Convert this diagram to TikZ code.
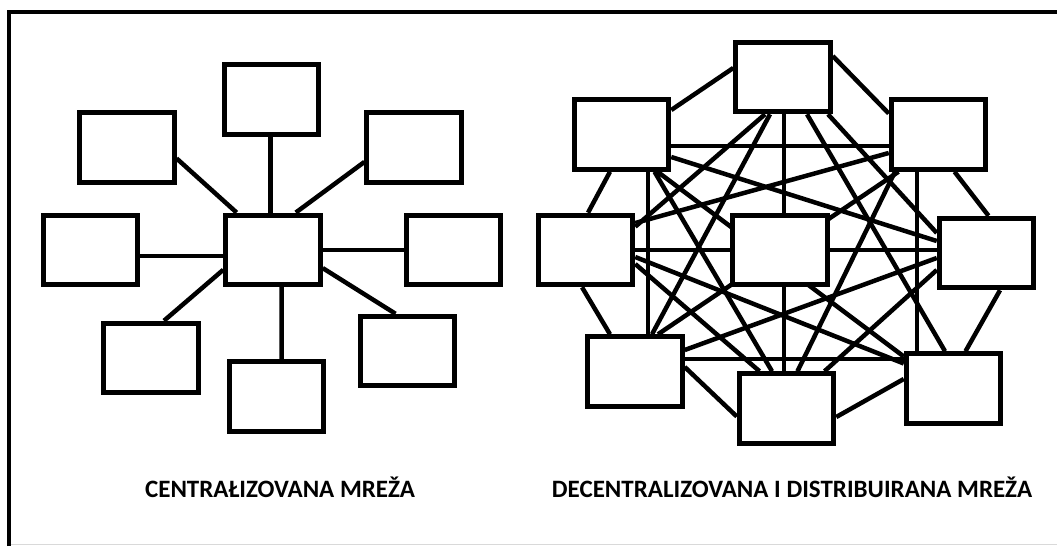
\documentclass[tikz,border=0pt]{standalone}
\usepackage{fontspec}
\setmainfont{Carlito}
\usepackage{tikz}
\usetikzlibrary{positioning}
\usetikzlibrary{calc}
\pgfdeclarelayer{links}
\pgfsetlayers{links,main}

\begin{document}
\begin{tikzpicture}[x=1pt, y=-1pt,
  box/.style={draw, line width=5pt, fill=white, inner sep=0pt, minimum width=94.5pt, minimum height=69.5pt},
  link/.style={line width=4.5pt},
  caption/.style={anchor=base, font=\bfseries\fontsize{25}{28}\selectfont}]

\useasboundingbox (0,0) rectangle (1057,546);

% frame
\draw [line width=4pt] (9,546) -- (9,12) -- (1057,12);
\draw [black!15, line width=1.5pt] (11,544.5) -- (1057,544.5);

% centralizovana: one hub and eight boxes
\node [box] (t1) at (271.3,99.3) {};
\node [box] (ul) at (126.8,147.6) {};
\node [box] (ur) at (414.2,147.6) {};
\node [box] (l1) at (90.4,249.8) {};
\node [box] (hub) at (273,249.8) {};
\node [box] (r1) at (453.7,249.8) {};
\node [box] (ll) at (150.8,358) {};
\node [box] (b1) at (276.4,396.4) {};
\node [box] (lr) at (407.7,351) {};

\begin{pgfonlayer}{links}
\draw [link] ([xshift=-0.8]t1.south) -- ([xshift=-2.5]hub.north);
\draw [link] ([yshift=-10.8]ul.east) -- ([xshift=-36.4]hub.north);
\draw [link] ([yshift=-14.3]ur.west) -- ([xshift=22.8]hub.north);
\draw [link] ([yshift=-6]l1.east) -- ([yshift=-6]hub.west);
\draw [link] (hub.east) -- (r1.west);
\draw [link] ([yshift=-20]hub.west) -- ([xshift=13.2]ll.north);
\draw [link] ([xshift=8.6]hub.south) -- ([xshift=5.2]b1.north);
\draw [link] ([yshift=-18.3]hub.east) -- ([xshift=-12.2]lr.north);
\end{pgfonlayer}

\node [caption] (cap1) at (280,497) {CENTRAŁIZOVANA MREŽA};

% decentralizovana: every box linked to every other
\node [box] (t) at (783,77) {};
\node [box] (tl) at (621.5,134.5) {};
\node [box] (tr) at (938.5,134.5) {};
\node [box] (l) at (585.5,250) {};
\node [box] (c) at (780,250) {};
\node [box] (r) at (986.5,253) {};
\node [box] (bl) at (635,371.5) {};
\node [box] (b) at (786.5,408.5) {};
\node [box] (br) at (953.5,388.5) {};

\begin{pgfonlayer}{links}
% outer ring
\draw [link] ([yshift=24.5]tl.east) -- ([yshift=9]t.west);
\draw [link] ([yshift=21]t.east) -- ([yshift=21]tr.west);
\draw [link] ([xshift=16]tr.south) -- ([xshift=2]r.north);
\draw [link] ([xshift=13.5]r.south) -- ([xshift=12]br.north);
\draw [link] ([yshift=9.5]br.west) -- ([yshift=-8.5]b.east);
\draw [link] ([yshift=-8]b.west) -- ([yshift=4.5]bl.east);
\draw [link] ([xshift=-25]bl.north) -- ([xshift=-3.5]l.south);
\draw [link] ([xshift=2.5]l.north) -- ([xshift=-11.5]tl.south);

% cross through the middle box
\draw [link] ([xshift=1]t.south) -- ([xshift=4]c.north);
\draw [link] ([xshift=4]c.south) -- ([xshift=-2.5]b.north);
\draw [link] (l.east) -- (c.west);
\draw [link] (c.east) -- ([yshift=3]r.west);

% straight sides
\draw [link] ([yshift=-11.5]tl.east) -- ([yshift=-11.5]tr.west);
\draw [link] ([yshift=12.5]bl.east) -- ([yshift=29.5]br.west);
\draw [link] ([xshift=26.5]tl.south) -- ([xshift=13]bl.north);
\draw [link] ([xshift=-21.5]tr.south) -- ([xshift=-36.5]br.north);

% diagonals
\draw [link] ([xshift=-18]t.south) -- ([yshift=23.3]l.east);
\draw [link] ([xshift=-13]t.south) -- ([xshift=17]bl.north);
\draw [link] ([xshift=24]t.south) -- ([xshift=-8.5]br.north);
\draw [link] ([xshift=45]t.south) -- ([yshift=20]r.west);
\draw [link] ([yshift=-22.5]tl.east) -- ([yshift=12]r.west);
\draw [link] ([xshift=33]tl.south) -- ([xshift=-14.5]b.north);
\draw [link] ([xshift=36]tl.south) -- ([yshift=32]br.west);
\draw [link] ([yshift=-18.5]tr.west) -- ([yshift=27]l.east);
\draw [link] ([xshift=-43.5]tr.south) -- ([xshift=11]b.north);
\draw [link] ([xshift=-40]tr.south) -- ([xshift=23]bl.north);
\draw [link] ([yshift=-5]r.west) -- ([yshift=21.5]bl.east);
\draw [link] ([yshift=-17]r.west) -- ([xshift=38]b.north);
\draw [link] ([yshift=-7]l.east) -- ([yshift=25]br.west);
\draw [link] ([yshift=-14]l.east) -- ([xshift=-27]b.north);
\end{pgfonlayer}

\node [caption] (cap2) at (792,497) {DECENTRALIZOVANA I DISTRIBUIRANA MREŽA};

\end{tikzpicture}
\end{document}
